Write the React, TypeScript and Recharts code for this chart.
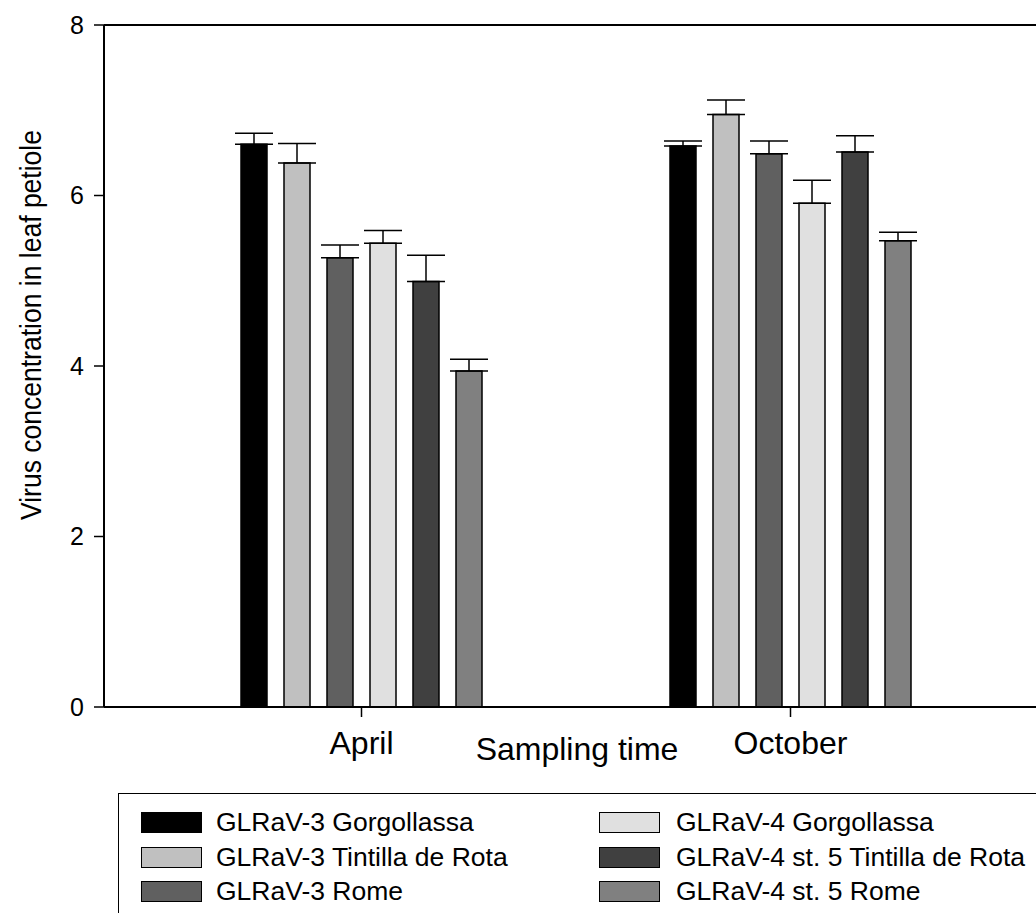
import React from 'react';
import { BarChart, Bar, XAxis, YAxis, ErrorBar, ReferenceLine, Legend, Label } from 'recharts';

// Sampling months (categories)
const months = ['April', 'October'];

// Series labels and fills
const seriesNames = [
  'GLRaV-3 Gorgollassa',
  'GLRaV-3 Tintilla de Rota',
  'GLRaV-3 Rome',
  'GLRaV-4 Gorgollassa',
  'GLRaV-4 st. 5 Tintilla de Rota',
  'GLRaV-4 st. 5 Rome',
];
const seriesFills = ['#000000', '#c0c0c0', '#606060', '#e0e0e0', '#404040', '#808080'];

// Mean virus concentration per month (April, October)
const g3Gorgollassa = [6.6, 6.58];
const g3Tintilla = [6.38, 6.95];
const g3Rome = [5.27, 6.49];
const g4Gorgollassa = [5.44, 5.91];
const g4st5Tintilla = [4.99, 6.51];
const g4st5Rome = [3.94, 5.47];

// Upper error (standard error) per month
const g3GorgollassaErr = [0.13, 0.06];
const g3TintillaErr = [0.23, 0.17];
const g3RomeErr = [0.15, 0.15];
const g4GorgollassaErr = [0.15, 0.27];
const g4st5TintillaErr = [0.31, 0.19];
const g4st5RomeErr = [0.14, 0.1];

const yTicks = [0, 2, 4, 6, 8];

const meanSets = [g3Gorgollassa, g3Tintilla, g3Rome, g4Gorgollassa, g4st5Tintilla, g4st5Rome];
const errSets = [g3GorgollassaErr, g3TintillaErr, g3RomeErr, g4GorgollassaErr, g4st5TintillaErr, g4st5RomeErr];

const data = months.map((month, i) => {
  const row: Record<string, any> = { month };
  meanSets.forEach((vals, s) => {
    row[`s${s}`] = vals[i];
    row[`e${s}`] = [0, errSets[s][i]];
  });
  return row;
});

const FONT = '"Liberation Sans", Arial, sans-serif';

const legendRows = [
  [0, 3],
  [1, 4],
  [2, 5],
];

const LegendBox = () => (
  <div
    style={{
      position: 'relative',
      width: '100%',
      height: '100%',
      boxSizing: 'border-box',
      border: '1.5px solid #000',
      fontFamily: FONT,
      fontSize: 26.5,
      color: '#000',
    }}
  >
    {legendRows.map((pair, r) =>
      pair.map((s, c) => (
        <div
          key={s}
          style={{
            position: 'absolute',
            left: c === 0 ? 22 : 480,
            top: 18 + r * 34.5,
            display: 'flex',
            alignItems: 'center',
            whiteSpace: 'nowrap',
          }}
        >
          <span
            style={{
              display: 'inline-block',
              width: 61,
              height: 21,
              boxSizing: 'border-box',
              border: '1.5px solid #000',
              background: seriesFills[s],
              marginRight: c === 0 ? 14 : 16,
            }}
          />
          <span style={{ lineHeight: '21px' }}>{seriesNames[s]}</span>
        </div>
      ))
    )}
  </div>
);

export default function App() {
  return (
    <div style={{ position: 'absolute', left: 0, top: 0, width: 1036, height: 913, overflow: 'hidden', background: '#fff' }}>
      <BarChart
        width={1036}
        height={913}
        data={data}
        margin={{ top: 25, right: 0, left: 0, bottom: 176 }}
        barSize={26}
        barGap={17}
      >
        <XAxis
          dataKey="month"
          padding={{ left: 43, right: 31 }}
          tickSize={10}
          tickMargin={14}
          height={30}
          axisLine={{ stroke: '#000', strokeWidth: 2 }}
          tickLine={{ stroke: '#000', strokeWidth: 1.5 }}
          tick={{ fill: '#000', fontSize: 32, fontFamily: FONT }}
        >
          <Label
            content={() => (
              <text x={577} y={760} textAnchor="middle" fontSize={32} fontFamily={FONT} fill="#000">
                Sampling time
              </text>
            )}
          />
        </XAxis>
        <YAxis
          type="number"
          domain={[0, 8]}
          ticks={yTicks}
          width={104}
          tickSize={10}
          tickMargin={10}
          axisLine={{ stroke: '#000', strokeWidth: 2 }}
          tickLine={{ stroke: '#000', strokeWidth: 1.5 }}
          tick={{ fill: '#000', fontSize: 25, fontFamily: FONT }}
        >
          <Label
            content={() => (
              <text
                x={31}
                y={325}
                transform="rotate(-90 31 325)"
                textAnchor="middle"
                dominantBaseline="central"
                fontSize={29}
                textLength={390}
                lengthAdjust="spacingAndGlyphs"
                fontFamily={FONT}
                fill="#000"
              >
                Virus concentration in leaf petiole
              </text>
            )}
          />
        </YAxis>
        <ReferenceLine y={8} stroke="#000" strokeWidth={2} />
        {seriesNames.map((name, s) => (
          <Bar
            key={name}
            dataKey={`s${s}`}
            name={name}
            fill={seriesFills[s]}
            stroke="#000"
            strokeWidth={1.5}
            isAnimationActive={false}
          >
            <ErrorBar dataKey={`e${s}`} direction="y" width={19} stroke="#000" strokeWidth={1.5} />
          </Bar>
        ))}
        <Legend
          layout="horizontal"
          verticalAlign="middle"
          align="center"
          content={() => <LegendBox />}
          wrapperStyle={{ left: 118, top: 793, width: 960, height: 160 }}
        />
      </BarChart>
    </div>
  );
}
